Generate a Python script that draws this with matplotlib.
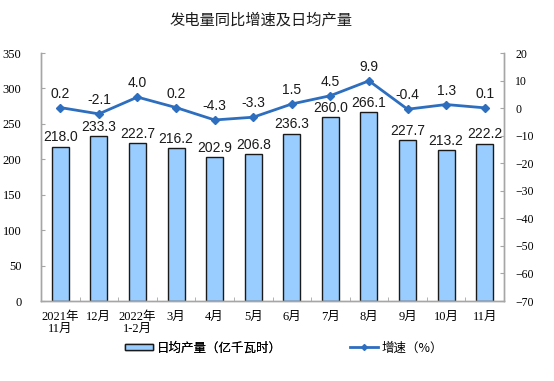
import matplotlib
matplotlib.use("Agg")
import matplotlib.pyplot as plt
from matplotlib.lines import Line2D
from matplotlib.patches import Patch
import numpy as np

categories = ["2021年\n11月", "12月", "2022年\n1-2月", "3月", "4月", "5月", "6月", "7月", "8月", "9月", "10月", "11月"]
daily_output = [218.0, 233.3, 222.7, 216.2, 202.9, 206.8, 236.3, 260.0, 266.1, 227.7, 213.2, 222.2]
growth = [0.2, -2.1, 4.0, 0.2, -4.3, -3.3, 1.5, 4.5, 9.9, -0.4, 1.3, 0.1]
left_ticks = [0, 50, 100, 150, 200, 250, 300, 350]
right_ticks = [-70, -60, -50, -40, -30, -20, -10, 0, 10, 20]

plt.rcParams['font.family'] = ['Liberation Sans', 'Noto Sans CJK SC']
serif = ['Liberation Serif', 'Noto Sans CJK SC']
cjk = ['Noto Sans CJK SC', 'DejaVu Sans']

fig = plt.figure(figsize=(5.54, 3.81), dpi=100)
ax = fig.add_axes([41/554, 1-301/381, 463/554, 248/381])
ax2 = ax.twinx()

x = np.arange(len(categories))
bar_color = '#99CCFF'
line_color = '#2E6EBE'
spine_color = '#A6A6A6'

ax.bar(x, daily_output, width=0.44, color=bar_color, edgecolor='#1a1a1a', linewidth=1.0, zorder=2)
for xi, v in zip(x, daily_output):
    ax.text(xi, v + 3, f"{v:.1f}", ha='center', va='bottom', fontsize=10, color='#1a1a1a')

ax.set_ylim(0, 350)
ax.set_yticks(left_ticks)
ax.set_xlim(-0.5, len(categories) - 0.5)
ax.set_xticks(x)
ax.set_xticklabels(categories, fontsize=9, family=serif, linespacing=1.05)
ax.set_xticks(np.arange(len(categories) + 1) - 0.5, minor=True)
ax.tick_params(axis='x', which='major', length=0, pad=7)
ax.tick_params(axis='x', which='minor', length=3, direction='in', color=spine_color)
ax.tick_params(axis='y', direction='in', length=3, color=spine_color, labelsize=9, pad=14)
for lab in ax.get_yticklabels():
    lab.set_family(serif)

ax2.plot(x, growth, color=line_color, linewidth=2, marker='D', markersize=4, zorder=3)
for xi, v in zip(x, growth):
    ax2.text(xi, v + 2.5, f"{v:.1f}", ha='center', va='bottom', fontsize=10, color='#1a1a1a')
ax2.set_ylim(-70, 20)
ax2.set_yticks(right_ticks)
ax2.tick_params(axis='y', direction='in', length=3, color=spine_color, labelsize=8.5, pad=8)
for lab in ax2.get_yticklabels():
    lab.set_family(serif)

for a in (ax, ax2):
    a.spines['top'].set_visible(False)
    for s in ('left', 'right', 'bottom'):
        a.spines[s].set_color(spine_color)
        a.spines[s].set_linewidth(1.0)
ax.set_zorder(1)
ax2.set_zorder(2)
ax.patch.set_visible(False)

fig.text(261/554, 1-20/381, "发电量同比增速及日均产量", ha='center', va='center', fontsize=11, family=cjk, color='#1a1a1a')

h1 = Patch(facecolor=bar_color, edgecolor='#1a1a1a', linewidth=1.0)
h2 = Line2D([0], [0], color=line_color, linewidth=2, marker='D', markersize=3)
leg1 = fig.legend([h1], ["日均产量（亿千瓦时）"], loc='center left', bbox_to_anchor=(114/554, 1-348/381),
                  frameon=False, prop={'family': cjk, 'size': 9},
                  handlelength=2.2, handleheight=0.45, handletextpad=0.3)
fig.add_artist(leg1)
leg2 = fig.legend([h2], ["增速（%）"], loc='center left', bbox_to_anchor=(339/554, 1-348/381),
                  frameon=False, prop={'family': cjk, 'size': 9},
                  handlelength=2.2, handletextpad=0.3)

fig.savefig("out.png", dpi=100)
